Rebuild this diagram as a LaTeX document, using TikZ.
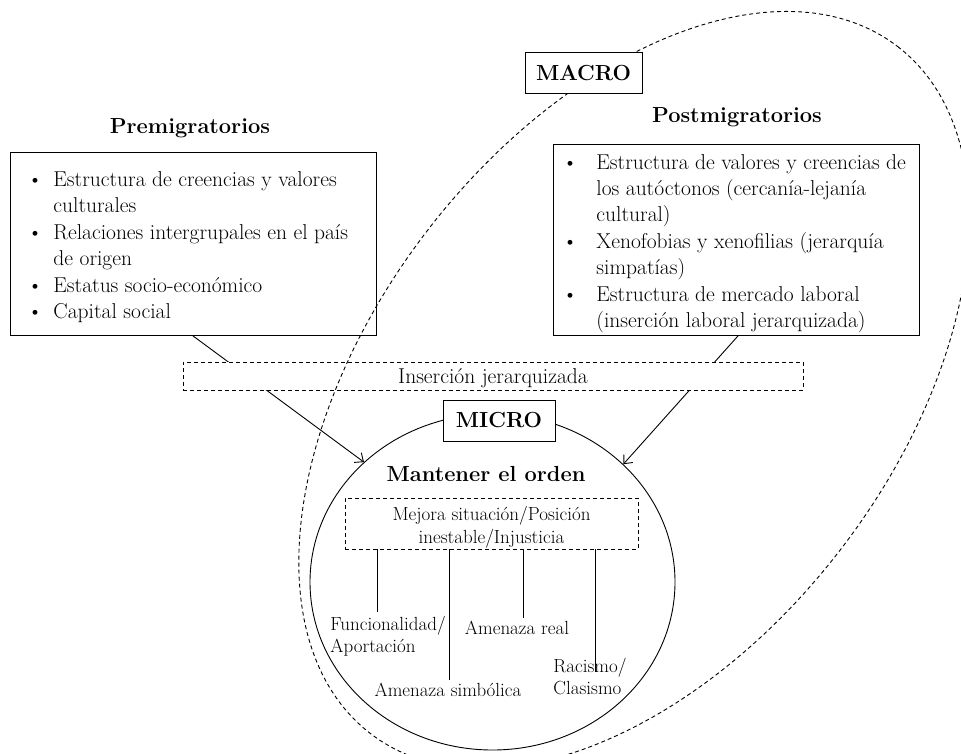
\documentclass[tikz,border=0pt]{standalone}
\usetikzlibrary{arrows.meta,shapes.geometric}
\begin{document}
\begin{tikzpicture}[x=1pt,y=-1pt,
  line width=0.9pt,
  dashline/.style={dash pattern=on 4pt off 3pt},
  body/.style={font=\fontsize{21.5}{26.4}\selectfont},
  small/.style={font=\fontsize{19}{22.5}\selectfont},
  head/.style={font=\fontsize{21.8}{25}\selectfont\bfseries},
  box/.style={draw, fill=white, inner sep=0pt},
  arr/.style={-{Straight Barb[length=7pt,width=12pt]}},
]
\useasboundingbox (0,0) rectangle (961,753);
\clip (0,0) rectangle (961,753);

% Premigratorios
\node[head] (pretitle) at (190,128) {Premigratorios};
\node[box, anchor=north west, minimum width=366pt, minimum height=183pt] (pre) at (10,152) {};
\node[body, anchor=base west, inner sep=0pt] (prelist) at (27,186.5) {\begin{tabular}[t]{@{}p{26pt}@{}l@{}}
\textbullet & Estructura de creencias y valores\\
 & culturales\\
\textbullet & Relaciones intergrupales en el país\\
 & de origen\\
\textbullet & Estatus socio-económico\\
\textbullet & Capital social
\end{tabular}};

% Postmigratorios
\node[head] (posttitle) at (737,117) {Postmigratorios};
\node[box, anchor=north west, minimum width=366pt, minimum height=191pt] (post) at (553,144) {};
\node[body, anchor=base west, inner sep=0pt] (postlist) at (562,169) {\begin{tabular}[t]{@{}p{34pt}@{}l@{}}
\textbullet & Estructura de valores y creencias de\\
 & los autóctonos (cercanía-lejanía\\
 & cultural)\\
\textbullet & Xenofobias y xenofilias (jerarquía\\
 & simpatías)\\
\textbullet & Estructura de mercado laboral\\
 & (inserción laboral jerarquizada)
\end{tabular}};

% micro ellipse
\node[draw, ellipse, inner sep=0pt, minimum width=365pt, minimum height=336pt] (orden) at (492.5,582) {};
\node[box, head, minimum width=112pt, minimum height=41pt] (micro) at (499,420.5) {MICRO};

% arrows
\draw[arr] ([xshift=183pt]pre.south west) -- (orden.137.6);
\draw[arr] ([xshift=185pt]post.south west) -- (orden.42.8);

% insercion
\node[box, dashline, body, minimum width=620pt, minimum height=28pt, text height=17pt, text depth=2pt] (ins) at (493,376) {Inserción jerarquizada};

% macro dashed ellipse
\draw[dashline, rotate around={52.5:(634,390)}] (634,390) ellipse [x radius=433, y radius=261];

\node[box, head, minimum width=117pt, minimum height=41pt] (macro) at (583.5,72.5) {MACRO};

% inside micro
\node[head] (mant) at (486,474) {Mantener el orden};
\node[draw, dashline, inner sep=0pt, minimum width=293pt, minimum height=51pt] (mejora) at (491.5,523.5) {};
\node[small, align=center, inner sep=0pt] (mejoratxt) at (491.5,527) {Mejora situación/Posición\\inestable/Injusticia};

\node[small, align=left, anchor=west, inner sep=0pt] (lbl1) at (330,636) {Funcionalidad/\\Aportación};
\node[small, inner sep=0pt] (lbl2) at (448,690) {Amenaza simbólica};
\node[small, inner sep=0pt] (lbl3) at (517,628) {Amenaza real};
\node[small, align=left, anchor=west, inner sep=0pt] (lbl4) at (553,676.5) {Racismo/\\Clasismo};

\coordinate (e1) at (377,612);
\coordinate (e2) at (449,680);
\coordinate (e3) at (523,618);
\coordinate (e4) at (595,672);
\draw (mejora.south -| e1) -- (e1);
\draw (mejora.south -| e2) -- (e2);
\draw (mejora.south -| e3) -- (e3);
\draw (mejora.south -| e4) -- (e4);
\end{tikzpicture}
\end{document}
